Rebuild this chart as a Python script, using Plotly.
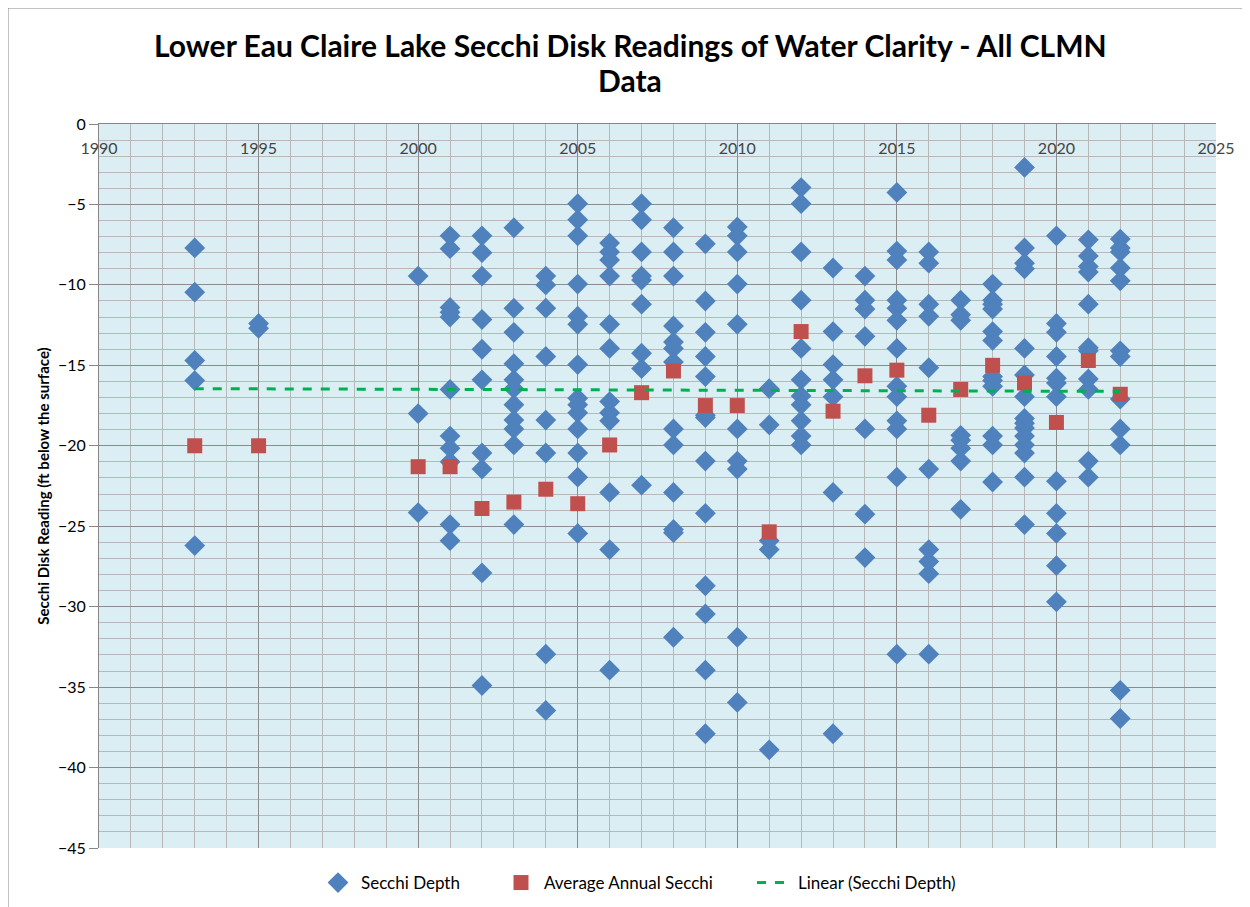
import numpy as np
import plotly.graph_objects as go

# ---- data ----
years_depth = {
    1993: [-7.7, -10.45, -14.7, -15.95, -26.2],
    1995: [-12.4, -12.7],
    2000: [-9.45, -18.0, -24.15],
    2001: [-6.95, -7.75, -11.4, -11.7, -12.0, -16.5, -19.4, -20.15, -21.0, -24.9, -25.9],
    2002: [-6.95, -8.0, -9.45, -12.15, -14.0, -15.9, -20.45, -21.45, -27.9, -34.9],
    2003: [-6.45, -11.45, -12.95, -14.9, -15.9, -16.45, -17.45, -18.4, -18.95, -19.95, -24.9],
    2004: [-9.45, -10.0, -11.45, -14.45, -18.4, -20.45, -32.95, -36.45],
    2005: [-4.95, -5.95, -6.95, -9.95, -11.95, -12.45, -14.95, -17.05, -17.45, -17.95, -18.95, -20.45, -21.95, -25.45],
    2006: [-7.4, -7.95, -8.45, -9.45, -12.45, -13.95, -17.25, -17.95, -18.45, -22.9, -26.45, -33.95],
    2007: [-4.95, -5.95, -7.95, -9.45, -9.7, -11.2, -14.25, -15.2, -22.45],
    2008: [-6.45, -7.95, -9.45, -12.55, -13.55, -13.95, -14.8, -18.95, -19.95, -22.9, -25.2, -25.4, -31.9],
    2009: [-7.45, -11.0, -12.95, -14.45, -15.7, -18.1, -18.25, -20.95, -24.2, -28.7, -30.45, -33.95, -37.9],
    2010: [-6.4, -6.95, -7.95, -9.95, -12.45, -18.95, -20.95, -21.45, -31.9, -35.95],
    2011: [-16.45, -18.7, -25.9, -26.45, -38.9],
    2012: [-3.95, -4.95, -7.95, -10.95, -13.95, -15.9, -16.9, -17.45, -18.45, -19.4, -19.95],
    2013: [-8.95, -12.9, -14.95, -15.9, -16.95, -22.9, -37.9],
    2014: [-9.45, -10.95, -11.5, -13.2, -18.95, -24.25, -26.95],
    2015: [-4.25, -7.9, -8.45, -10.95, -11.45, -12.2, -13.95, -16.3, -16.95, -18.45, -18.95, -21.95, -32.95],
    2016: [-7.95, -8.65, -11.2, -11.95, -15.15, -21.45, -26.45, -27.2, -27.95, -32.95],
    2017: [-10.95, -11.85, -12.2, -19.35, -19.65, -20.15, -20.95, -23.95],
    2018: [-9.95, -10.95, -11.2, -11.5, -12.9, -13.45, -15.7, -15.95, -16.3, -19.4, -19.95, -22.25],
    2019: [-2.7, -7.7, -8.65, -9.0, -13.95, -15.6, -16.95, -18.3, -18.6, -18.9, -19.4, -19.95, -20.45, -21.95, -24.9],
    2020: [-6.95, -12.4, -12.95, -14.45, -15.8, -16.1, -16.95, -22.2, -24.2, -25.45, -27.45, -29.7],
    2021: [-7.2, -8.2, -8.85, -9.2, -11.2, -13.9, -14.1, -15.85, -16.5, -20.95, -21.95],
    2022: [-7.15, -7.7, -7.95, -8.95, -9.75, -14.1, -14.45, -17.1, -18.95, -19.95, -35.2, -36.95],
}
avg_years = [1993, 1995, 2000, 2001, 2002, 2003, 2004, 2005, 2006, 2007, 2008, 2009,
             2010, 2011, 2012, 2013, 2014, 2015, 2016, 2017, 2018, 2019, 2020, 2021, 2022]
avg_values = [-20.0, -20.0, -21.3, -21.3, -23.9, -23.5, -22.7, -23.6, -19.95, -16.7, -15.35, -17.5,
              -17.5, -25.35, -12.9, -17.85, -15.65, -15.3, -18.1, -16.5, -15.0, -16.1, -18.55, -14.7, -16.8]

x_tick_vals = [1990, 1995, 2000, 2005, 2010, 2015, 2020, 2025]
y_tick_vals = [0, -5, -10, -15, -20, -25, -30, -35, -40, -45]
title_lines = ["Lower Eau Claire Lake Secchi Disk Readings of Water Clarity - All CLMN", "Data"]

depth_x = [y for y, vals in years_depth.items() for _ in vals]
depth_y = [v for vals in years_depth.values() for v in vals]

# linear trendline on the Secchi depth readings
slope, intercept = np.polyfit(depth_x, depth_y, 1)
trend_x = [min(depth_x), max(depth_x)]
trend_y = [slope * x + intercept for x in trend_x]

FONT = "Lato"
# page body adds an 8px offset; plot area in screen px: left 99, right 1216, top 124, bottom 848
PL, PR, PT, PB = 99, 1216, 124, 848
PW, PH = PR - PL, PB - PT

fig = go.Figure()
fig.add_trace(go.Scatter(
    x=depth_x, y=depth_y, mode="markers", name="Secchi Depth", legend="legend",
    marker=dict(symbol="diamond", size=16, color="#4F81BD", line=dict(width=0)),
))
fig.add_trace(go.Scatter(
    x=avg_years, y=avg_values, mode="markers", name="Average Annual Secchi", legend="legend2",
    marker=dict(symbol="square", size=15, color="#C0504D", line=dict(width=0)),
))
fig.add_trace(go.Scatter(
    x=trend_x, y=trend_y, mode="lines", name="Linear (Secchi Depth)", legend="legend3",
    line=dict(color="#00B050", width=3, dash="dash"),
))

def legend_at(left_px):
    return dict(
        orientation="h", x=(left_px - PL) / PW, xanchor="left",
        y=-(883 - PB) / PH, yanchor="middle", itemwidth=36,
        font=dict(family=FONT, size=17), bgcolor="rgba(0,0,0,0)",
    )

fig.update_layout(
    width=1250, height=907, autosize=False,
    paper_bgcolor="white", plot_bgcolor="#DBEEF4",
    margin=dict(l=PL - 8, r=1250 + 8 - PR, t=PT - 8, b=907 + 8 - PB, autoexpand=False),
    font=dict(family=FONT, size=15, color="black"),
    showlegend=True,
    legend=legend_at(315),
    legend2=legend_at(498),
    legend3=legend_at(752),
)

for line, py in zip(title_lines, [45, 80]):
    fig.add_annotation(
        text=line, xref="paper", yref="paper",
        x=(630 - PL) / PW, y=1 + (PT - py) / PH, xanchor="center", yanchor="middle",
        showarrow=False, font=dict(family=FONT, size=30, color="black", weight="bold"),
    )

fig.update_xaxes(
    range=[1990, 2025], side="top", tickvals=x_tick_vals,
    ticktext=[str(v) for v in x_tick_vals],
    ticklabelposition="inside", ticklabeloverflow="allow",
    ticks="inside", ticklen=19, tickcolor="#8C8C8C",
    showgrid=True, gridcolor="#8C8C8C", gridwidth=1,
    minor=dict(dtick=1, showgrid=True, gridcolor="#B8B8B8", gridwidth=1),
    showline=True, linecolor="#868686", linewidth=1, mirror=False,
    zeroline=False, tickfont=dict(size=16, family=FONT), automargin=False,
)
fig.update_yaxes(
    range=[-45, 0], tickvals=y_tick_vals,
    ticks="outside", ticklen=9, tickcolor="#868686",
    showgrid=True, gridcolor="#8C8C8C", gridwidth=1,
    minor=dict(dtick=1, showgrid=True, gridcolor="#B8B8B8", gridwidth=1),
    showline=True, linecolor="#868686", linewidth=1,
    zeroline=False, tickfont=dict(size=16, family=FONT), automargin=False,
    title=dict(text="<b>Secchi Disk Reading (ft below the surface)</b>",
               font=dict(size=15, family=FONT), standoff=4),
)

# outer chart border
fig.add_shape(type="rect", xref="paper", yref="paper",
              x0=(8 - PL) / PW, x1=(1243 - PL) / PW,
              y0=-(912 - PB) / PH, y1=1 + (PT - 8) / PH,
              line=dict(color="#868686", width=1), fillcolor="rgba(0,0,0,0)", layer="below")

fig.write_html("out.html")
